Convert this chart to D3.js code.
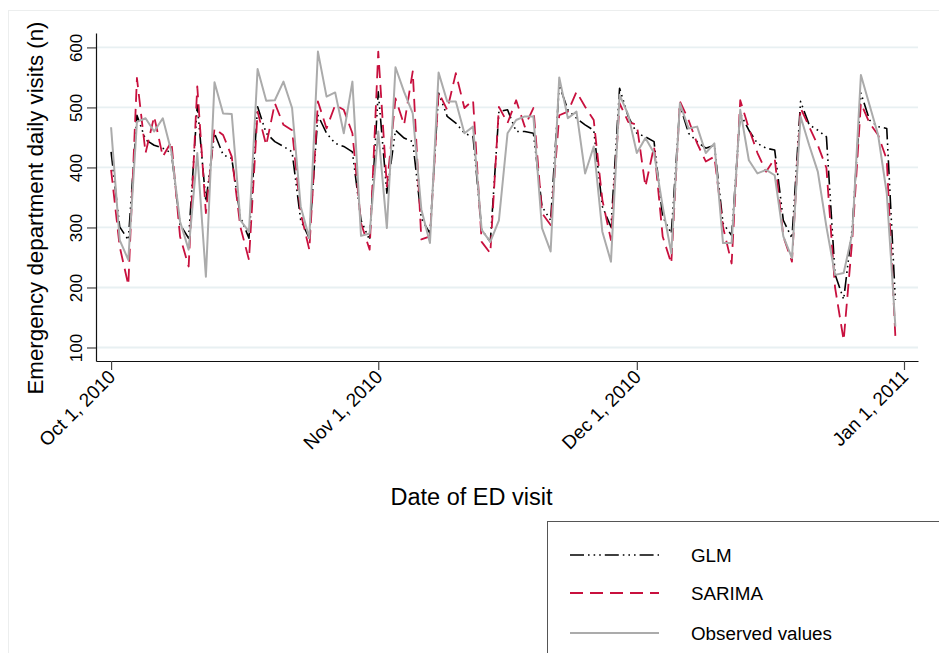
<!DOCTYPE html>
<html>
<head>
<meta charset="utf-8">
<script src="https://cdn.jsdelivr.net/npm/d3@7"></script>
<style>
  body { margin: 0; background: #fff; }
  svg { display: block; }
  text { font-family: "Liberation Sans", Arial, Helvetica, sans-serif; fill: #000; }
</style>
</head>
<body>
<svg id="chart" width="939" height="653"></svg>
<script>
// Daily emergency department visits, 1 Oct 2010 – 31 Dec 2010
const startDate = "2010-10-01";

const glm = [
  426, 301, 279, 487, 446, 437, 432, 424, 305, 282,
  504, 343, 457, 421, 415, 318, 282, 501, 457, 443,
  435, 426, 312, 282, 487, 457, 440, 435, 426, 312,
  279, 526, 357, 462, 449, 443, 315, 290, 524, 485,
  474, 457, 451, 296, 276, 493, 496, 460, 460, 457,
  335, 312, 537, 496, 482, 471, 462, 335, 301, 532,
  485, 457, 451, 443, 318, 290, 504, 457, 443, 432,
  437, 307, 287, 490, 462, 440, 432, 429, 312, 282,
  510, 471, 462, 451, 222, 180, 300, 524, 479, 468,
  465, 179
];

const sarima = [
  396, 268, 204, 549, 424, 485, 418, 443, 285, 235,
  535, 324, 465, 454, 418, 301, 246, 493, 437, 507,
  471, 462, 324, 263, 510, 465, 504, 496, 457, 307,
  263, 593, 368, 515, 471, 560, 280, 285, 525, 496,
  557, 499, 512, 276, 257, 501, 474, 512, 468, 499,
  324, 304, 487, 493, 526, 501, 479, 346, 279, 507,
  476, 471, 368, 435, 285, 240, 510, 479, 440, 410,
  418, 301, 240, 512, 465, 424, 393, 415, 285, 243,
  499, 468, 437, 399, 200, 112, 280, 507, 474, 454,
  413, 118
];

const observed = [
  467, 279, 246, 476, 482, 460, 482, 426, 310, 263,
  424, 218, 542, 490, 489, 312, 293, 564, 511, 512,
  543, 499, 335, 282, 593, 518, 525, 457, 543, 286,
  290, 460, 299, 567, 526, 490, 330, 274, 558, 510,
  510, 457, 468, 296, 276, 312, 457, 479, 485, 485,
  299, 260, 550, 482, 493, 390, 435, 293, 243, 521,
  488, 424, 449, 424, 335, 257, 507, 465, 468, 424,
  440, 274, 274, 496, 412, 390, 396, 387, 285, 249,
  485, 437, 393, 301, 221, 224, 290, 554, 504, 454,
  357, 135
];

const yTicks = [100, 200, 300, 400, 500, 600];
const xTickDates = ["2010-10-01", "2010-11-01", "2010-12-01", "2011-01-01"];
const seriesNames = ["GLM", "SARIMA", "Observed values"];
const yTitle = "Emergency department daily visits (n)";
const xTitle = "Date of ED visit";

const parse = d3.utcParse("%Y-%m-%d");
const day0 = parse(startDate);
const dates = observed.map((_, i) => d3.utcDay.offset(day0, i));

const svg = d3.select("#chart");

// outer graph region outline
svg.append("rect")
  .attr("x", 8.5).attr("y", 10.5)
  .attr("width", 1200).attr("height", 1200)
  .attr("fill", "none").attr("stroke", "#eceeee").attr("stroke-width", 1);

const x = d3.scaleUtc()
  .domain([d3.utcHour.offset(day0, -42), d3.utcHour.offset(day0, 2247)])
  .range([96, 918]);

const y = d3.scaleLinear()
  .domain([77.5, 624])
  .range([361, 33]);

// horizontal grid
svg.append("g")
  .selectAll("line")
  .data(yTicks)
  .join("line")
  .attr("x1", x.range()[0]).attr("x2", x.range()[1])
  .attr("y1", d => y(d)).attr("y2", d => y(d))
  .attr("stroke", "#e8f0f2").attr("stroke-width", 1.8);

// series
const line = d3.line()
  .x((d, i) => x(dates[i]))
  .y(d => y(d));

const series = [
  { name: seriesNames[0], values: glm, color: "#000000", width: 1.6, dash: "14,4,1.6,4,1.6,4,1.6,4" },
  { name: seriesNames[1], values: sarima, color: "#c8103e", width: 1.8, dash: "13,7" },
  { name: seriesNames[2], values: observed, color: "#ababab", width: 2, dash: null }
];

svg.append("g")
  .selectAll("path")
  .data(series)
  .join("path")
  .attr("d", s => line(s.values))
  .attr("fill", "none")
  .attr("stroke", s => s.color)
  .attr("stroke-width", s => s.width)
  .attr("stroke-dasharray", s => s.dash)
  .attr("stroke-linejoin", "round");

// y axis
const yAxis = svg.append("g")
  .attr("transform", `translate(${x.range()[0]},0)`)
  .call(d3.axisLeft(y).tickValues(yTicks).tickSize(9).tickSizeOuter(0).tickPadding(5));
yAxis.select(".domain").attr("stroke", "#111").attr("stroke-width", 1.2);
yAxis.selectAll(".tick line").attr("stroke", "#444").attr("stroke-width", 1.2);
yAxis.selectAll(".tick text")
  .attr("x", null).attr("dy", null)
  .attr("text-anchor", "middle")
  .attr("transform", "translate(-14,0) rotate(-90)")
  .style("font-size", "17px");

// x axis
const xAxis = svg.append("g")
  .attr("transform", `translate(0,${y.range()[0]})`)
  .call(d3.axisBottom(x)
    .tickValues(xTickDates.map(parse))
    .tickFormat(d3.utcFormat("%b %-d, %Y"))
    .tickSize(9).tickSizeOuter(0));
xAxis.select(".domain").attr("stroke", "#111").attr("stroke-width", 1.2);
xAxis.selectAll(".tick line").attr("stroke", "#444").attr("stroke-width", 1.2);
xAxis.selectAll(".tick text")
  .attr("y", null).attr("dy", null)
  .attr("text-anchor", "end")
  .attr("transform", "translate(5,17) rotate(-45)")
  .style("font-size", "19px");

svg.selectAll(".tick text").attr("fill", "#000").style("font-family", '"Liberation Sans", Arial, sans-serif');

// axis titles
svg.append("text")
  .attr("transform", "translate(43,208) rotate(-90)")
  .attr("text-anchor", "middle")
  .style("font-size", "22.3px")
  .text(yTitle);

svg.append("text")
  .attr("x", 471.5).attr("y", 505)
  .attr("text-anchor", "middle")
  .style("font-size", "23.5px")
  .text(xTitle);

// legend
const legend = svg.append("g");
legend.append("rect")
  .attr("x", 547.5).attr("y", 521.5)
  .attr("width", 500).attr("height", 200)
  .attr("fill", "#fff").attr("stroke", "#555").attr("stroke-width", 1);

const legendRows = [555, 593, 633];
const items = legend.selectAll("g.item")
  .data(series)
  .join("g")
  .attr("class", "item")
  .attr("transform", (d, i) => `translate(0,${legendRows[i]})`);
items.append("line")
  .attr("x1", 570).attr("x2", 659)
  .attr("stroke", d => d.color)
  .attr("stroke-width", d => d.width)
  .attr("stroke-dasharray", d => d.dash);
items.append("text")
  .attr("x", 691).attr("y", 7)
  .style("font-size", "18.8px")
  .text(d => d.name);
</script>
</body>
</html>
